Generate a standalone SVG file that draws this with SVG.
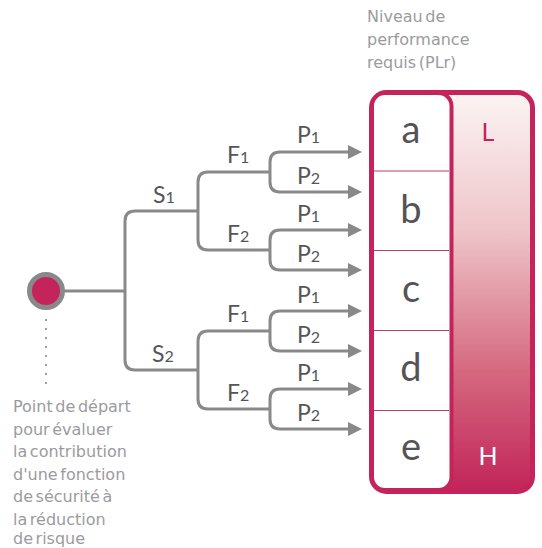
<svg xmlns="http://www.w3.org/2000/svg" width="542" height="548" viewBox="0 0 542 548">
  <defs>
    <linearGradient id="plGrad" x1="0" y1="0" x2="0" y2="1">
      <stop offset="0" stop-color="#fbf4f4"/>
      <stop offset="0.35" stop-color="#eec4c8"/>
      <stop offset="0.7" stop-color="#d5687f"/>
      <stop offset="1" stop-color="#c2245a"/>
    </linearGradient>
    <marker id="arrow" markerWidth="14" markerHeight="14" refX="0" refY="7" orient="auto" markerUnits="userSpaceOnUse">
      <path d="M0,0 L14,7 L0,14 Z" fill="#89898c"/>
    </marker>
  </defs>
  <style>
    .wire { fill: none; stroke: #89898c; stroke-width: 3; }
    .arr { fill: none; stroke: #89898c; stroke-width: 3; marker-end: url(#arrow); }
    .lbl { font-family: Lato, "Liberation Sans", sans-serif; font-size: 23px; fill: #555558; }
    .sub { font-size: 16px; }
    .note { font-family: "DejaVu Sans", "Liberation Sans", sans-serif; font-size: 16px; word-spacing: -2.5px; fill: #9b9b9e; }
    .lvl { font-family: Lato, "Liberation Sans", sans-serif; font-size: 38px; fill: #545457; text-anchor: middle; }
    .rk { font-family: Lato, "Liberation Sans", sans-serif; font-size: 25px; text-anchor: middle; }
    .row { stroke: #c9396a; stroke-width: 1.2; }
  </style>

  <!-- header above the level column -->
  <g id="header">
    <text class="note" x="367" y="22">Niveau de</text>
    <text class="note" x="367" y="45">performance</text>
    <text class="note" x="367" y="68">requis (PLr)</text>
  </g>

  <!-- connectors of the risk graph -->
  <g id="connectors">
    <path class="wire" d="M64,291 H125"/>
    <path class="wire" d="M198,211 H135 Q125,211 125,221 V360 Q125,370 135,370 H198"/>
    <!-- S1 branch -->
    <path class="wire" d="M270,172 H208 Q198,172 198,182 V240 Q198,250 208,250 H270"/>
    <path class="arr" d="M270,172 V162 Q270,152 280,152 H348"/>
    <path class="arr" d="M270,172 V182 Q270,192 280,192 H348"/>
    <path class="arr" d="M270,250 V240 Q270,230 280,230 H348"/>
    <path class="arr" d="M270,250 V260 Q270,270 280,270 H348"/>
    <!-- S2 branch -->
    <path class="wire" d="M270,331 H208 Q198,331 198,341 V399 Q198,409 208,409 H270"/>
    <path class="arr" d="M270,331 V321 Q270,311 280,311 H348"/>
    <path class="arr" d="M270,331 V341 Q270,351 280,351 H348"/>
    <path class="arr" d="M270,409 V399 Q270,389 280,389 H348"/>
    <path class="arr" d="M270,409 V419 Q270,429 280,429 H348"/>
    <!-- dotted leader to the start note -->
    <path d="M46,320 V392" fill="none" stroke="#89898c" stroke-width="2.2" stroke-linecap="round" stroke-dasharray="0 9"/>
  </g>

  <!-- branch labels -->
  <g id="labels">
    <text class="lbl" x="153" y="203">S<tspan class="sub">1</tspan></text>
    <text class="lbl" x="152" y="362">S<tspan class="sub">2</tspan></text>
    <text class="lbl" x="227" y="163">F<tspan class="sub">1</tspan></text>
    <text class="lbl" x="227" y="242">F<tspan class="sub">2</tspan></text>
    <text class="lbl" x="227" y="322">F<tspan class="sub">1</tspan></text>
    <text class="lbl" x="227" y="401">F<tspan class="sub">2</tspan></text>
    <text class="lbl" x="297" y="143">P<tspan class="sub">1</tspan></text>
    <text class="lbl" x="297" y="184">P<tspan class="sub">2</tspan></text>
    <text class="lbl" x="297" y="222">P<tspan class="sub">1</tspan></text>
    <text class="lbl" x="297" y="262">P<tspan class="sub">2</tspan></text>
    <text class="lbl" x="297" y="303">P<tspan class="sub">1</tspan></text>
    <text class="lbl" x="297" y="343">P<tspan class="sub">2</tspan></text>
    <text class="lbl" x="297" y="381">P<tspan class="sub">1</tspan></text>
    <text class="lbl" x="297" y="421">P<tspan class="sub">2</tspan></text>
  </g>

  <!-- starting point -->
  <g id="start">
    <circle cx="46" cy="291" r="16.5" fill="#c4245a" stroke="#89898c" stroke-width="5"/>
    <text class="note" x="13" y="412">Point de départ</text>
    <text class="note" x="13" y="434.5">pour évaluer</text>
    <text class="note" x="13" y="457">la contribution</text>
    <text class="note" x="13" y="479.5">d'une fonction</text>
    <text class="note" x="13" y="502">de sécurité à</text>
    <text class="note" x="13" y="524.5">la réduction</text>
    <text class="note" x="13" y="544">de risque</text>
  </g>

  <!-- PLr scale -->
  <g id="plr-scale">
    <rect x="371.5" y="92.5" width="161" height="399" rx="15" fill="url(#plGrad)" stroke="#c4245a" stroke-width="5"/>
    <rect x="372" y="93" width="79.5" height="397" rx="13" fill="#ffffff" stroke="#c4245a" stroke-width="4"/>
    <text class="rk" x="488" y="141" fill="#c4245a">L</text>
    <text class="rk" x="488" y="465" fill="#ffffff">H</text>
  </g>

  <g id="level-a">
    <text class="lvl" x="411" y="143">a</text>
  </g>
  <g id="level-b">
    <line class="row" x1="374" y1="171" x2="449" y2="171"/>
    <text class="lvl" x="411" y="223">b</text>
  </g>
  <g id="level-c">
    <line class="row" x1="374" y1="250.5" x2="449" y2="250.5"/>
    <text class="lvl" x="411" y="302">c</text>
  </g>
  <g id="level-d">
    <line class="row" x1="374" y1="330.5" x2="449" y2="330.5"/>
    <text class="lvl" x="411" y="381">d</text>
  </g>
  <g id="level-e">
    <line class="row" x1="374" y1="410.5" x2="449" y2="410.5"/>
    <text class="lvl" x="411" y="460">e</text>
  </g>
</svg>
